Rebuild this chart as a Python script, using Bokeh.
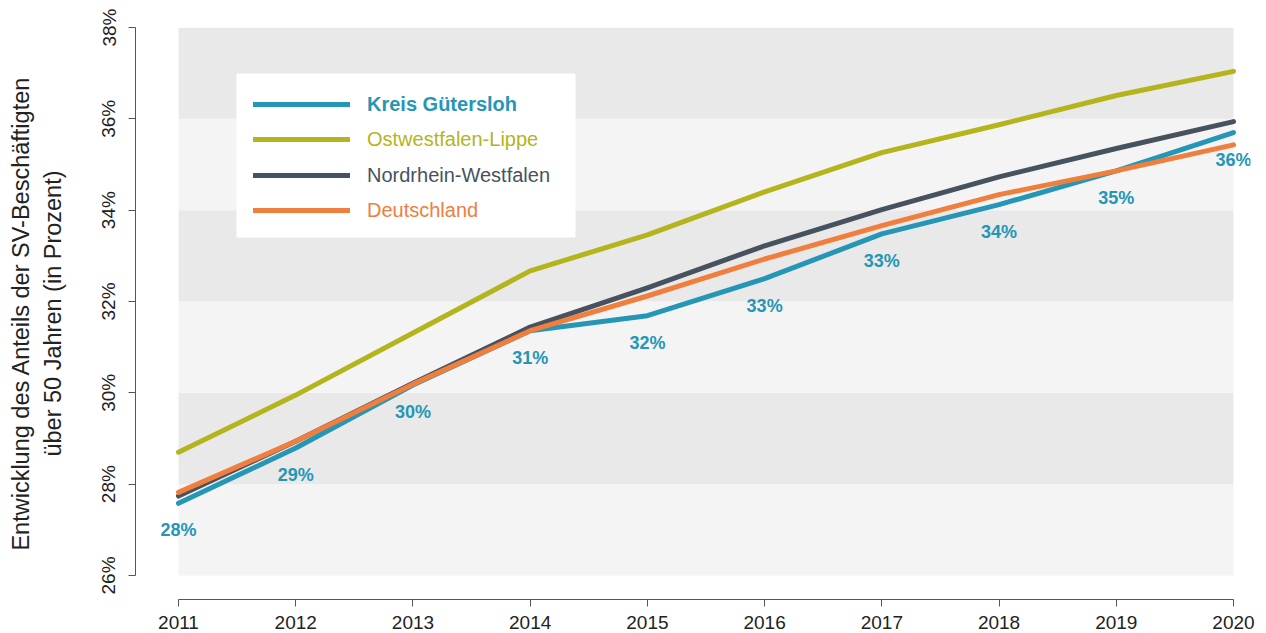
import math
from bokeh.plotting import figure
from bokeh.models import (Range1d, FixedTicker, PrintfTickFormatter, Legend,
                          LegendItem, BoxAnnotation, ColumnDataSource)
from bokeh.core.properties import value
from bokeh.embed import file_html
from bokeh.resources import INLINE

# ---------------- data ----------------
years = [2011, 2012, 2013, 2014, 2015, 2016, 2017, 2018, 2019, 2020]
kreis_guetersloh = [27.58, 28.79, 30.17, 31.36, 31.69, 32.50, 33.48, 34.12, 34.86, 35.70]
ostwestfalen_lippe = [28.70, 29.95, 31.31, 32.67, 33.46, 34.40, 35.26, 35.87, 36.51, 37.04]
nordrhein_westfalen = [27.74, 28.94, 30.21, 31.44, 32.30, 33.22, 34.01, 34.73, 35.35, 35.94]
deutschland = [27.82, 28.94, 30.19, 31.36, 32.12, 32.93, 33.66, 34.34, 34.86, 35.43]
kreis_labels = ["28%", "29%", "30%", "31%", "32%", "33%", "33%", "34%", "35%", "36%"]

series_names = ["Kreis Gütersloh", "Ostwestfalen-Lippe", "Nordrhein-Westfalen", "Deutschland"]
y_ticks = [26, 28, 30, 32, 34, 36, 38]
band_bottom = [26, 28, 30, 32, 34, 36]
band_top = [28, 30, 32, 34, 36, 38]

# ---------------- style ----------------
FONT = "Liberation Sans"
C_BLUE = "#2596b5"
C_OLIVE = "#b4b41c"
C_DARK = "#46535e"
C_ORANGE = "#f07e3d"
BAND_LIGHT = "#f4f4f4"
BAND_DARK = "#e9e9e9"

x_start, x_end = 2010.633, 2020.145
y_start, y_end = 25.474, 38.0

p = figure(frame_width=1115, frame_height=572,
           x_range=Range1d(x_start, x_end), y_range=Range1d(y_start, y_end),
           output_backend="svg", toolbar_location=None,
           min_border_left=135, min_border_right=16, min_border_top=27, min_border_bottom=20)
p.outline_line_color = None
p.background_fill_color = "white"
p.border_fill_color = "white"
p.xgrid.visible = False
p.ygrid.visible = False

# background bands
band_colors = [BAND_LIGHT if i % 2 == 0 else BAND_DARK for i in range(len(band_bottom))]
p.quad(left=years[0], right=years[-1], bottom=band_bottom, top=band_top,
       fill_color=band_colors, line_color=None)

# lines
renderers = []
for vals, col in [(kreis_guetersloh, C_BLUE), (ostwestfalen_lippe, C_OLIVE),
                  (nordrhein_westfalen, C_DARK), (deutschland, C_ORANGE)]:
    r = p.line(years, vals, line_color=col, line_width=5, line_cap="round", line_join="round")
    renderers.append(r)

# percent labels for Kreis Gütersloh
src = ColumnDataSource(dict(x=years, y=kreis_guetersloh, t=kreis_labels))
p.text(x="x", y="y", text="t", source=src, y_offset=27, text_align="center",
       text_baseline="middle", text_color=C_BLUE, text_font=value(FONT),
       text_font_size="18px", text_font_style="bold")

# axes
p.xaxis.ticker = FixedTicker(ticks=years)
p.xaxis.bounds = (years[0], years[-1])
p.yaxis.ticker = FixedTicker(ticks=y_ticks)
p.yaxis.bounds = (y_ticks[0], y_ticks[-1])
p.yaxis.formatter = PrintfTickFormatter(format="%d%%")
for ax in (p.xaxis[0], p.yaxis[0]):
    ax.axis_line_color = "#555555"
    ax.major_tick_line_color = "#555555"
    ax.minor_tick_line_color = None
    ax.major_tick_in = 0
    ax.major_tick_out = 7
    ax.major_label_text_font = FONT
    ax.major_label_text_font_size = "19px"
    ax.major_label_text_color = "#222222"
p.xaxis.major_label_standoff = 9
p.yaxis.major_label_standoff = 9
p.yaxis.major_label_orientation = "vertical"
p.yaxis.axis_label = "Entwicklung des Anteils der SV-Beschäftigten\nüber 50 Jahren (in Prozent)"
p.yaxis.axis_label_text_font = FONT
p.yaxis.axis_label_text_font_size = "23.5px"
p.yaxis.axis_label_text_font_style = "normal"
p.yaxis.axis_label_text_color = "#222222"
p.yaxis.axis_label_standoff = 30

# legend box (layout position in pixels of the picture -> data units)
def px_x(px):
    return years[0] + (px - 178) * (years[-1] - years[0]) / (1233 - 178)

def px_y(py):
    return y_end - (py - 27) * (y_end - y_ticks[0]) / (575 - 27)

box = BoxAnnotation(left=px_x(236), right=px_x(575), top=px_y(73), bottom=px_y(237),
                    fill_color="white", fill_alpha=1.0, line_color=None)
p.add_layout(box)

legend_cols = [C_BLUE, C_OLIVE, C_DARK, C_ORANGE]
centers = [104, 139, 175, 210]
item_h = 23
for name, r, col, cy in zip(series_names, renderers, legend_cols, centers):
    lg = Legend(items=[LegendItem(label=name, renderers=[r])],
                location=(118, 599 - cy - item_h / 2),
                padding=0, margin=0, spacing=0,
                glyph_width=97, glyph_height=20, label_height=20,
                label_standoff=17,
                label_text_font=FONT, label_text_font_size="20px",
                label_text_color=col,
                label_text_font_style="bold" if name == "Kreis Gütersloh" else "normal",
                background_fill_alpha=0, border_line_alpha=0)
    p.add_layout(lg, "center")

open("out.html", "w").write(file_html(p, INLINE))
